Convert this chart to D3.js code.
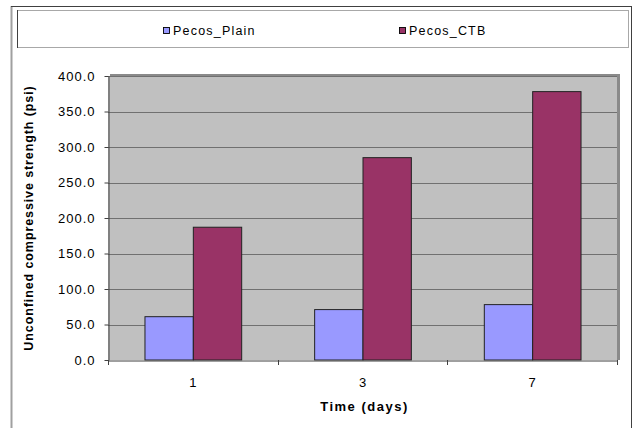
<!DOCTYPE html>
<html><head><meta charset="utf-8">
<script src="https://cdn.jsdelivr.net/npm/d3@7"></script>
<style>body{margin:0;background:#fff}svg{display:block;font-family:Arial,"Liberation Sans",sans-serif}</style>
</head><body><svg id="c" width="634" height="428"></svg>
<script>
const categories = ["1","3","7"];
const seriesNames = ["Pecos_Plain","Pecos_CTB"];
const plainValues = [61, 71, 78];
const ctbValues = [187, 285, 378];
const yTicks = [0,50,100,150,200,250,300,350,400];
const colors = ["#9999FF","#993366"];

const svg = d3.select("#c");
const m = {l:108, r:617, t:76, b:360};

// outer frame
svg.append("line").attr("x1",11.5).attr("y1",6).attr("x2",11.5).attr("y2",428).attr("stroke","#a0a0a0").attr("stroke-width",2);
svg.append("line").attr("x1",11).attr("y1",6.5).attr("x2",631).attr("y2",6.5).attr("stroke","#404040");
svg.append("line").attr("x1",631.5).attr("y1",6).attr("x2",631.5).attr("y2",428).attr("stroke","#404040");

// legend box
svg.append("rect").attr("x",17.5).attr("y",10.5).attr("width",611).attr("height",37).attr("fill","#fff").attr("stroke","#a8a8a8");
svg.append("line").attr("x1",17.5).attr("y1",10).attr("x2",17.5).attr("y2",48).attr("stroke","#404040");
const legX = [163, 399];
seriesNames.forEach((n,i)=>{
  svg.append("rect").attr("x",legX[i]+0.5).attr("y",27.5).attr("width",6).attr("height",6).attr("fill",colors[i]).attr("stroke","#000").attr("stroke-width",0.9);
  svg.append("text").attr("x",legX[i]+10).attr("y",35).attr("font-size",12.5).attr("letter-spacing",1.2).attr("fill","#000").text(n);
});

const x0 = d3.scaleBand().domain(categories).range([m.l,m.r]).paddingInner(0.43).paddingOuter(0.215);
const x1 = d3.scaleBand().domain(seriesNames).range([0,x0.bandwidth()]);
const y = d3.scaleLinear().domain([0,400]).range([m.b,m.t]);

// plot bg with shadow
svg.append("rect").attr("x",m.l+2).attr("y",m.t-2).attr("width",m.r-m.l+1).attr("height",m.b-m.t+2).attr("fill","#8a8a8a");
svg.append("rect").attr("x",m.l).attr("y",m.t).attr("width",m.r-m.l).attr("height",m.b-m.t).attr("fill","#C0C0C0");

// gridlines
svg.append("g").selectAll("line").data(yTicks.filter(t=>t>0)).join("line")
  .attr("x1",m.l).attr("x2",m.r).attr("y1",d=>Math.round(y(d))+0.5).attr("y2",d=>Math.round(y(d))+0.5)
  .attr("stroke","#707070").attr("stroke-width",1);

// bars
const data = categories.map((c,i)=>({c, vals:[plainValues[i], ctbValues[i]]}));
const g = svg.append("g").selectAll("g").data(data).join("g").attr("transform",d=>`translate(${x0(d.c)},0)`);
g.selectAll("rect").data(d=>d.vals.map((v,i)=>({v,i}))).join("rect")
  .attr("x",d=>x1(seriesNames[d.i])+0.5).attr("y",d=>y(d.v)).attr("width",x1.bandwidth()).attr("height",d=>m.b-y(d.v))
  .attr("fill",d=>colors[d.i]).attr("stroke","#222").attr("stroke-width",1);

// y axis
const ya = svg.append("g").attr("transform",`translate(${m.l+0.5},0)`)
  .call(d3.axisLeft(y).tickValues(yTicks).tickFormat(d3.format(".1f")).tickSize(4).tickSizeOuter(0));
ya.select(".domain").attr("stroke","#404040");
ya.selectAll(".tick line").attr("stroke","#404040");
ya.selectAll("text").attr("font-size",13).attr("letter-spacing",1).attr("font-family","Arial,'Liberation Sans',sans-serif").attr("fill","#000").attr("x",-13);

// x axis
const xa = svg.append("g").attr("transform",`translate(0,${m.b+0.5})`)
  .call(d3.axisBottom(x0).tickSize(0).tickSizeOuter(0));
xa.select(".domain").attr("stroke","#404040");
xa.selectAll("text").attr("font-size",13).attr("font-family","Arial,'Liberation Sans',sans-serif").attr("fill","#000").attr("y",26).attr("dy",0);
svg.append("g").selectAll("line").data(d3.range(0,4)).join("line")
  .attr("x1",d=>Math.round(m.l+d*(m.r-m.l)/3)+0.5).attr("x2",d=>Math.round(m.l+d*(m.r-m.l)/3)+0.5)
  .attr("y1",m.b).attr("y2",m.b+5).attr("stroke","#404040");

// titles
svg.append("text").attr("x",(m.l+m.r)/2+2).attr("y",411).attr("text-anchor","middle").attr("font-size",13).attr("letter-spacing",1.5).attr("font-weight","bold").text("Time (days)");
svg.append("text").attr("transform",`translate(33,${(m.t+m.b)/2}) rotate(-90)`).attr("text-anchor","middle").attr("font-size",12.5).attr("letter-spacing",0.9).attr("font-weight","bold").text("Unconfined compressive strength (psi)");
</script></body></html>
